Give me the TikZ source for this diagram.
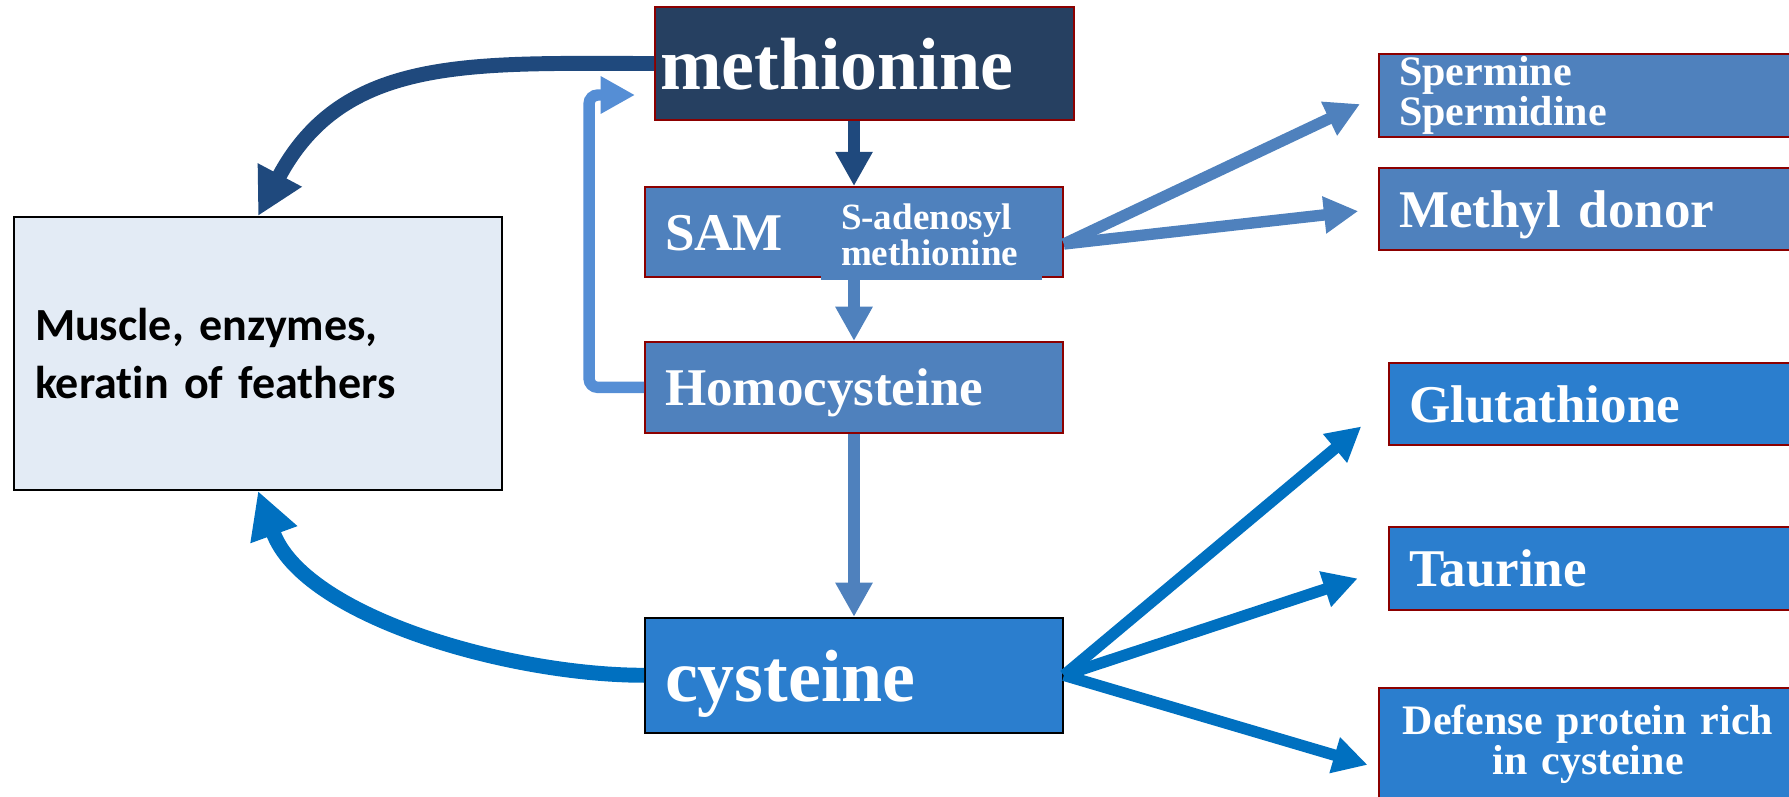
\documentclass[tikz,border=0pt]{standalone}
\usepackage{fontspec}
\usetikzlibrary{arrows.meta,positioning}
\newfontfamily\tnr{Liberation Serif}
\newfontfamily\calib{Carlito}[Ligatures=NoCommon]
\definecolor{navy}{RGB}{38,64,97}
\definecolor{steel}{RGB}{79,129,189}
\definecolor{azure}{RGB}{43,126,206}
\definecolor{boxred}{RGB}{140,0,0}
\definecolor{pale}{RGB}{227,235,245}
\definecolor{navyline}{RGB}{31,73,125}
\definecolor{sky}{RGB}{85,142,213}
\definecolor{ocean}{RGB}{0,112,192}

\begin{document}
\begin{tikzpicture}[x=0.02cm, y=0.02cm,
  box/.style={draw=boxred, line width=1.1pt, fill=steel, text=white, inner ysep=0pt, align=left},
  big/.style={font=\tnr\bfseries\fontsize{42.1}{46}\selectfont, text height=1.04cm, text depth=0pt},
  mid/.style={font=\tnr\bfseries\fontsize{30.2}{34}\selectfont, text height=0.74cm, text depth=0pt},
  small/.style={font=\tnr\bfseries\fontsize{23.9}{21.6}\selectfont},
  wide/.style={minimum width=8.36cm, text width=7.56cm, inner xsep=0.4cm},
  narrow/.style={minimum width=8.16cm, text width=7.36cm, inner xsep=0.4cm},
  tip/.style={-{Triangle[length=19.5pt,width=20pt]}, line width=6.5pt},
  bigtip/.style={-{Triangle[length=26.5pt,width=26.5pt]}, line width=8.5pt}]
\useasboundingbox (0,0) rectangle (1789,796);

% middle column
\node (meth) [box, big, fill=navy, minimum width=8.38cm, text width=8.18cm, inner xsep=0.1cm, minimum height=2.26cm] at (864.5,732.5) {methionine};
\node (SAM) [box, mid, wide, minimum height=1.8cm] at (854,564) {SAM};
\node (sadeno) [fill=steel, text=white, align=left, text width=3.62cm, inner xsep=0.4cm, inner ysep=0pt, minimum height=1.8cm,
  font=\tnr\bfseries\fontsize{21.1}{20.5}\selectfont] at (931.5,561) {S-adenosyl\\methionine};
\node (homo) [box, mid, wide, minimum height=1.82cm, below=1.26cm of SAM] {Homocysteine};
\node (cys) [box, big, wide, fill=azure, draw=black, minimum height=2.3cm, below=3.66cm of homo] {cysteine};

% left
\node (muscle) [draw=black, fill=pale, line width=1.1pt, minimum width=9.76cm, minimum height=5.46cm, text width=8.92cm, inner xsep=0.42cm, align=left,
  font=\calib\bfseries\fontsize{26.2}{33}\selectfont] at (258,442.5) {Muscle, enzymes,\\keratin of feathers};

% right
\node (sperm) [box, small, wide, minimum height=1.66cm] at (1588,700.5) {Spermine\\Spermidine};
\node (methyl) [box, mid, wide, minimum height=1.64cm, below=0.58cm of sperm] {Methyl donor};
\node (glut) [box, mid, narrow, fill=azure, minimum height=1.64cm] at (1593,392) {Glutathione};
\node (taur) [box, mid, narrow, fill=azure, minimum height=1.66cm, below=1.6cm of glut] {Taurine};
\node (def) [box, small, fill=azure, minimum width=8.36cm, text width=8cm, inner xsep=0.18cm, align=center, minimum height=2.24cm] at (1588,52) {Defense protein rich\\in cysteine};

\coordinate (back) at (635,701);

\draw[tip, navyline] (SAM.north |- meth.south) -- (SAM.north);
\draw[tip, steel] (SAM.south) -- (homo.north);
\draw[tip, steel] (homo.south) -- (cys.north);
\draw[tip, sky, rounded corners=5pt] (homo.west) -- ++(-1.1cm,0) |- (back);
\draw[bigtip, navyline] (meth.west) to[out=180,in=62,looseness=1.1] (muscle.north);
\draw[bigtip, ocean] (cys.west) to[out=180,in=-70,looseness=0.8] (muscle.south);
\draw[tip, steel, shorten >=0.4cm] ([yshift=-0.24cm]SAM.east) -- (sperm.west);
\draw[tip, steel, shorten >=0.4cm] ([yshift=-0.24cm]SAM.east) -- (methyl.west);
\draw[tip, ocean, shorten >=0.7cm] (cys.east) -- (glut.west);
\draw[tip, ocean, shorten >=0.64cm] (cys.east) -- (taur.west);
\draw[tip, ocean, shorten >=0.22cm] (cys.east) -- ([yshift=-0.48cm]def.west);
\end{tikzpicture}
\end{document}
